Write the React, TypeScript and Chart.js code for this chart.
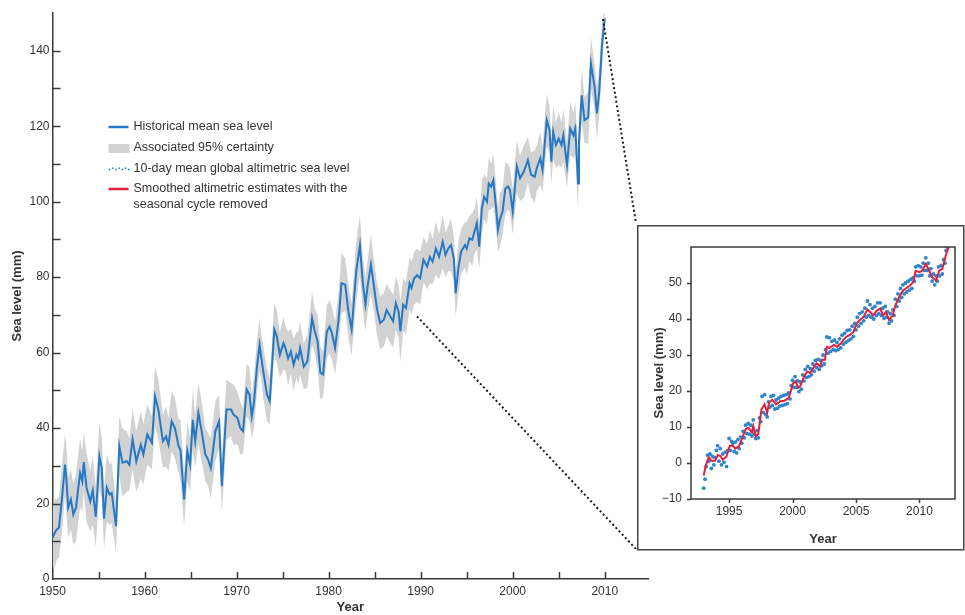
import React, { useEffect, useRef } from 'react';
import { Chart, registerables } from 'chart.js';

Chart.register(...registerables);

// ---------- Main chart data: historical mean sea level (mm) ----------
const histYears = [
  1950.0, 1950.3, 1950.45, 1950.7, 1951.0, 1951.36, 1951.5, 1951.7, 1952.0, 1952.26, 1952.55, 1953.0, 1953.24, 1953.4, 1953.7, 1954.1, 1954.37, 1954.7, 1955.1, 1955.35, 1955.6, 1955.9, 1956.2, 1956.43, 1956.9, 1957.26, 1957.6, 1958.07, 1958.35, 1958.7, 1959.1, 1959.6, 1959.87,
  1960.3, 1960.8, 1961.14, 1961.5, 1962.0, 1962.34, 1962.6, 1962.95, 1963.3, 1963.7, 1963.9, 1964.3, 1964.65, 1964.95, 1965.24, 1965.5, 1965.85, 1966.2, 1966.6, 1966.9, 1967.2, 1967.7, 1968.1, 1968.4, 1968.64, 1968.9, 1969.4, 1969.65,
  1970.1, 1970.4, 1970.7, 1971.1, 1971.4, 1971.65, 1971.9, 1972.2, 1972.5, 1972.7, 1972.9, 1973.3, 1973.6, 1974.1, 1974.37, 1974.7, 1975.1, 1975.3, 1975.6, 1975.9, 1976.2, 1976.5, 1976.7, 1976.9, 1977.3, 1977.7, 1978.2, 1978.5, 1978.8, 1979.1, 1979.4, 1979.8,
  1980.1, 1980.35, 1980.7, 1981.1, 1981.4, 1981.8, 1982.15, 1982.5, 1983.0, 1983.4, 1983.7, 1984.0, 1984.26, 1984.6, 1984.9, 1985.24, 1985.6, 1986.0, 1986.3, 1986.7, 1987.0, 1987.3, 1987.6, 1987.8, 1988.1, 1988.4, 1988.8, 1989.0, 1989.3, 1989.6, 1989.95,
  1990.3, 1990.7, 1991.0, 1991.3, 1991.65, 1992.0, 1992.4, 1992.7, 1993.0, 1993.3, 1993.6, 1993.8, 1994.1, 1994.4, 1994.8, 1995.0, 1995.3, 1995.6, 1995.85, 1996.1, 1996.36, 1996.65, 1996.9, 1997.2, 1997.4, 1997.66, 1997.9, 1998.2, 1998.4, 1998.6, 1998.9, 1999.2, 1999.5, 1999.7,
  2000.0, 2000.45, 2000.8, 2001.2, 2001.65, 2002.0, 2002.4, 2002.6, 2003.0, 2003.24, 2003.7, 2004.0, 2004.2, 2004.4, 2004.7, 2005.0, 2005.3, 2005.5, 2005.9, 2006.25, 2006.6, 2006.8, 2007.1, 2007.2, 2007.5, 2007.8, 2008.2, 2008.5, 2008.9, 2009.15, 2009.4, 2009.7, 2010.0,
];
const histLevel = [
  10.9, 12.5, 13.1, 13.6, 20.6, 30.3, 26.8, 18.9, 21.1, 17.1, 18.9, 28.1, 25.9, 31.0, 24.2, 20.6, 23.5, 16.5, 32.5, 29.4, 16.0, 24.2, 22.4, 22.8, 14.0, 35.2, 30.8, 31.2, 30.3, 37.0, 31.2, 35.6, 33.0,
  38.3, 36.1, 48.4, 44.9, 36.5, 37.8, 35.6, 41.8, 40.0, 35.2, 34.3, 21.1, 33.9, 30.3, 42.2, 36.5, 44.0, 39.2, 33.0, 31.7, 29.4, 39.2, 41.8, 24.6, 34.7, 44.9, 44.9, 43.6,
  42.7, 40.0, 39.2, 50.2, 48.9, 43.1, 47.1, 55.9, 62.1, 58.5, 55.0, 48.9, 47.1, 66.1, 64.3, 59.4, 62.5, 61.2, 58.5, 60.3, 56.8, 59.4, 58.5, 61.2, 56.3, 57.7, 69.1, 65.6, 63.0, 54.6, 54.2, 65.6,
  66.9, 65.2, 61.2, 69.1, 78.4, 78.0, 70.9, 66.1, 81.5, 88.5, 78.8, 72.7, 78.0, 83.3, 78.0, 71.8, 67.8, 68.7, 71.3, 69.6, 68.3, 73.1, 70.9, 65.6, 72.7, 71.8, 78.4, 77.1, 79.7, 80.5, 79.7,
  84.6, 82.8, 85.4, 84.1, 87.6, 85.4, 89.4, 85.9, 87.6, 88.5, 85.0, 75.7, 82.4, 86.8, 88.5, 87.6, 90.3, 89.9, 92.1, 94.3, 88.1, 98.2, 101.3, 100.0, 104.8, 104.0, 105.7, 98.2, 92.5, 95.2, 97.4, 103.5, 104.0, 103.1,
  97.4, 109.3, 106.2, 107.9, 111.0, 107.1, 106.6, 108.8, 111.5, 108.4, 121.6, 119.0, 110.6, 118.5, 115.0, 116.7, 115.0, 117.6, 109.7, 119.4, 117.6, 119.4, 104.8, 115.9, 128.2, 121.6, 122.3, 136.6, 130.4, 123.4, 129.1, 141.4, 148.5,
];
// half-width of the associated 95% certainty band (mm)
const histUncert = [
  8, 9, 8, 8, 9, 8, 9, 8, 8, 8, 9, 9, 8, 8, 9, 8, 9, 8, 9, 8, 8, 9, 8, 8, 7, 8, 9, 8, 7, 8, 8, 9, 8,
  8, 7, 8, 8, 7, 8, 7, 8, 8, 7, 8, 7, 8, 7, 8, 7, 8, 8, 7, 7, 8, 8, 7, 7, 8, 8, 7, 8,
  7, 7, 6, 7, 7, 6, 7, 7, 7, 6, 7, 7, 6, 7, 7, 6, 7, 6, 7, 6, 7, 6, 7, 7, 6, 7, 7, 6, 7, 7, 6, 7,
  7, 7, 7, 7, 8, 7, 7, 7, 8, 8, 7, 7, 7, 8, 7, 7, 7, 7, 7, 7, 7, 7, 7, 8, 7, 7, 7, 7, 7, 7, 7,
  6, 6, 7, 6, 7, 6, 7, 6, 6, 7, 6, 6, 7, 6, 6, 7, 6, 7, 6, 7, 6, 7, 6, 6, 7, 6, 7, 6, 6, 7, 6, 7, 6, 6,
  6, 7, 6, 7, 6, 6, 7, 6, 7, 6, 7, 6, 6, 7, 6, 7, 6, 7, 6, 7, 6, 7, 7, 6, 7, 6, 7, 7, 6, 7, 6, 6, 3,
];

// ---------- Inset data: 10-day altimetric sea level (mm) ----------
const altYears = [
  1993.0, 1993.1, 1993.2, 1993.3, 1993.4, 1993.5, 1993.6, 1993.7, 1993.8, 1993.9,
  1994.0, 1994.1, 1994.2, 1994.3, 1994.4, 1994.5, 1994.6, 1994.7, 1994.8, 1994.9,
  1995.0, 1995.1, 1995.2, 1995.3, 1995.4, 1995.5, 1995.6, 1995.7, 1995.8, 1995.9,
  1996.0, 1996.1, 1996.2, 1996.3, 1996.4, 1996.5, 1996.6, 1996.7, 1996.8, 1996.9,
  1997.0, 1997.1, 1997.2, 1997.3, 1997.4, 1997.5, 1997.6, 1997.7, 1997.8, 1997.9,
  1998.0, 1998.1, 1998.2, 1998.3, 1998.4, 1998.5, 1998.6, 1998.7, 1998.8, 1998.9,
  1999.0, 1999.1, 1999.2, 1999.3, 1999.4, 1999.5, 1999.6, 1999.7, 1999.8, 1999.9,
  2000.0, 2000.1, 2000.2, 2000.3, 2000.4, 2000.5, 2000.6, 2000.7, 2000.8, 2000.9,
  2001.0, 2001.1, 2001.2, 2001.3, 2001.4, 2001.5, 2001.6, 2001.7, 2001.8, 2001.9,
  2002.0, 2002.1, 2002.2, 2002.3, 2002.4, 2002.5, 2002.6, 2002.7, 2002.8, 2002.9,
  2003.0, 2003.1, 2003.2, 2003.3, 2003.4, 2003.5, 2003.6, 2003.7, 2003.8, 2003.9,
  2004.0, 2004.1, 2004.2, 2004.3, 2004.4, 2004.5, 2004.6, 2004.7, 2004.8, 2004.9,
  2005.0, 2005.1, 2005.2, 2005.3, 2005.4, 2005.5, 2005.6, 2005.7, 2005.8, 2005.9,
  2006.0, 2006.1, 2006.2, 2006.3, 2006.4, 2006.5, 2006.6, 2006.7, 2006.8, 2006.9,
  2007.0, 2007.1, 2007.2, 2007.3, 2007.4, 2007.5, 2007.6, 2007.7, 2007.8, 2007.9,
  2008.0, 2008.1, 2008.2, 2008.3, 2008.4, 2008.5, 2008.6, 2008.7, 2008.8, 2008.9,
  2009.0, 2009.1, 2009.2, 2009.3, 2009.4, 2009.5, 2009.6, 2009.7, 2009.8, 2009.9,
  2010.0, 2010.1, 2010.2, 2010.3, 2010.4, 2010.5, 2010.6, 2010.7, 2010.8, 2010.9,
  2011.0, 2011.1, 2011.2, 2011.3, 2011.4, 2011.5, 2011.6, 2011.7, 2011.8, 2011.9,
  2012.0, 2012.1, 2012.2,
];
const altLevel = [
  -7.0, -4.5, -1.0, 2.2, 0.5, 2.5, -1.5, 1.8, -0.5, 1.5,
  3.5, 4.8, 0.5, 4.0, -0.5, 2.5, 0.2, 3.0, -1.0, 3.5,
  6.8, 3.5, 6.0, 5.5, 3.2, 5.8, 2.8, 6.5, 4.0, 7.2,
  5.5, 8.8, 7.0, 10.5, 8.2, 11.0, 8.0, 10.5, 7.5, 12.0,
  8.0, 6.8, 9.0, 7.0, 12.5, 11.5, 18.5, 14.0, 19.0, 13.5,
  12.8, 17.0, 15.5, 18.5, 16.0, 18.8, 15.0, 17.5, 15.2, 18.0,
  15.8, 18.5, 16.0, 18.8, 16.2, 19.0, 16.5, 19.5, 17.8, 21.5,
  23.0, 21.0, 24.0, 21.0, 22.8, 19.8, 22.5, 20.5, 24.5, 22.8,
  26.0, 23.8, 26.8, 24.0, 26.2, 24.5, 27.5, 25.5, 28.5, 26.5,
  28.8, 26.0, 28.5, 27.0, 30.0, 27.5, 31.5, 35.0, 30.5, 34.8,
  31.0, 33.8, 31.5, 34.2, 31.2, 33.5, 31.5, 34.5, 32.0, 35.5,
  33.0, 36.0, 33.5, 36.8, 34.0, 37.0, 34.5, 38.0, 35.2, 38.8,
  37.0, 40.5, 38.0, 41.5, 38.8, 42.0, 39.5, 43.0, 40.5, 45.0,
  41.0, 44.0, 40.5, 43.0, 40.0, 43.5, 41.0, 44.5, 41.5, 44.5,
  41.0, 43.0, 40.2, 43.5, 40.5, 42.0, 38.8, 41.5, 39.5, 42.5,
  41.0, 45.5, 43.5, 47.0, 45.0, 48.5, 46.0, 49.5, 47.0, 50.0,
  47.5, 50.5, 48.0, 51.0, 48.5, 51.5, 50.5, 54.5, 52.0, 54.8,
  52.0, 54.5, 52.2, 55.5, 53.5, 57.0, 53.5, 55.5, 52.0, 54.0,
  50.5, 52.5, 49.5, 52.0, 50.5, 54.5, 52.0, 54.8, 52.5, 56.5,
  55.5, 59.0, 60.0,
];
// Smoothed altimetric estimates, seasonal cycle removed (mm)
const smoothYears = [
  1993.0, 1993.16, 1993.4, 1993.6, 1993.9, 1994.1, 1994.3, 1994.5, 1994.8, 1995.05,
  1995.3, 1995.5, 1995.8, 1996.06, 1996.3, 1996.5, 1996.8, 1996.9, 1997.1, 1997.3,
  1997.55, 1997.8, 1998.0, 1998.15, 1998.4, 1998.7, 1999.05, 1999.3, 1999.5, 1999.7,
  2000.05, 2000.25, 2000.45, 2000.6, 2000.9, 2001.15, 2001.4, 2001.7, 2001.9, 2002.15,
  2002.36, 2002.55, 2002.7, 2002.9, 2003.25, 2003.5, 2003.8, 2004.0, 2004.25, 2004.5,
  2004.8, 2005.05, 2005.3, 2005.6, 2005.9, 2006.1, 2006.35, 2006.6, 2006.9, 2007.15,
  2007.36, 2007.6, 2007.9, 2008.1, 2008.4, 2008.7, 2008.9, 2009.25, 2009.5, 2009.7,
  2010.0, 2010.2, 2010.5, 2010.77, 2011.0, 2011.3, 2011.56, 2011.8, 2012.1, 2012.3,
];
const smoothValues = [
  -3.5, -0.7, 1.6, 0.6, 0.6, 2.2, 2.0, 0.9, 1.8, 4.8,
  4.8, 4.0, 4.8, 7.1, 9.4, 9.8, 8.5, 10.3, 7.5, 8.0,
  14.9, 16.3, 14.0, 16.7, 17.6, 16.3, 17.2, 17.2, 17.6, 18.1,
  22.2, 22.7, 20.9, 21.3, 24.0, 25.4, 25.0, 26.8, 27.7, 26.8,
  28.7, 28.7, 32.3, 31.9, 32.8, 32.3, 33.2, 34.2, 35.1, 35.5,
  36.4, 38.8, 39.7, 40.6, 42.6, 42.0, 41.0, 42.2, 42.9, 41.0,
  42.0, 39.7, 41.0, 43.8, 46.1, 47.9, 48.4, 49.3, 50.2, 53.4,
  53.0, 53.4, 55.3, 53.4, 51.6, 50.7, 53.4, 53.9, 58.0, 59.9,
];

// ---------- Tick labels ----------
const mainXLabels = [1950, 1960, 1970, 1980, 1990, 2000, 2010];
const mainYLabels = [0, 20, 40, 60, 80, 100, 120, 140];
const insetXLabels = [1995, 2000, 2005, 2010];
const insetYLabels = [-10, 0, 10, 20, 30, 40, 50];

const legendLabels = [
  'Historical mean sea level',
  'Associated 95% certainty',
  '10-day mean global altimetric sea level',
  'Smoothed altimetric estimates with the',
  'seasonal cycle removed',
];

// points on the main chart (year, mm) from which the zoom connectors start
const connectorYears = [2009.8, 1989.6];
const connectorLevels = [148.4, 69.6];

// ---------- Styles ----------
const FONT = "'Liberation Sans', Arial, Helvetica, sans-serif";
const TEXT = '#333333';
const AXIS = '#3a3a3a';
const BLUE = '#2478c4';
const GRAY = '#d2d2d2';
const RED = '#e2203c';
const DOT = '#2f84cc';

const BOX = { left: 637, top: 225, right: 963, bottom: 549 };

Chart.defaults.font.family = FONT;
Chart.defaults.color = TEXT;

const rnd = (v: any) => Math.round(Number(v) * 1000) / 1000;
const fmtMinus = (v: number) => (v < 0 ? '\u2212' + Math.abs(v) : String(v));
const isMult = (v: number, m: number) => Math.abs(v / m - Math.round(v / m)) < 1e-6;

const mainDecor = {
  id: 'mainDecor',
  afterDraw(chart: any) {
    const { ctx, scales } = chart;
    const x = scales.x;
    const y = scales.y;
    ctx.save();
    // inward tick marks
    ctx.strokeStyle = AXIS;
    ctx.lineWidth = 1.5;
    ctx.beginPath();
    y.ticks.forEach((t: any) => {
      const v = rnd(t.value);
      if (isMult(v, 10) && v <= 140 && v > 0) {
        const py = Math.round(y.getPixelForValue(v)) + 0.5;
        ctx.moveTo(x.left, py);
        ctx.lineTo(x.left + 8, py);
      }
    });
    x.ticks.forEach((t: any) => {
      const v = rnd(t.value);
      if (isMult(v, 5) && v <= 2010 && v > 1950) {
        const px = Math.round(x.getPixelForValue(v)) + 0.5;
        ctx.moveTo(px, y.bottom);
        ctx.lineTo(px, y.bottom - 7);
      }
    });
    ctx.stroke();

    // legend
    const lx = x.left + 56;
    const ly = y.top + 114;
    const tx = lx + 25;
    ctx.lineWidth = 2.5;
    ctx.strokeStyle = BLUE;
    ctx.beginPath();
    ctx.moveTo(lx, ly);
    ctx.lineTo(lx + 20, ly);
    ctx.stroke();
    ctx.fillStyle = GRAY;
    ctx.fillRect(lx, ly + 17, 21, 9);
    ctx.fillStyle = DOT;
    const dotPat = [0.5, -0.8, 0.5, -0.8, 0.5, -0.8, 0.5];
    dotPat.forEach((d, i) => {
      ctx.beginPath();
      ctx.arc(lx + 1 + i * 3.2, ly + 42 + d, 0.9, 0, Math.PI * 2);
      ctx.fill();
    });
    ctx.strokeStyle = RED;
    ctx.lineWidth = 2.5;
    ctx.beginPath();
    ctx.moveTo(lx, ly + 62);
    ctx.lineTo(lx + 20, ly + 62);
    ctx.stroke();

    ctx.fillStyle = TEXT;
    ctx.font = `12.5px ${FONT}`;
    ctx.textBaseline = 'middle';
    ctx.textAlign = 'left';
    const rows = [0, 21, 42, 62, 78];
    legendLabels.forEach((s, i) => ctx.fillText(s, tx, ly + rows[i]));

    // inset box
    ctx.strokeStyle = '#444';
    ctx.lineWidth = 1.5;
    ctx.strokeRect(BOX.left + 0.75, BOX.top + 0.75, BOX.right - BOX.left, BOX.bottom - BOX.top);

    // dotted connectors
    ctx.strokeStyle = '#1a1a1a';
    ctx.lineWidth = 2;
    ctx.setLineDash([2, 2.6]);
    const ends = [
      [BOX.left - 1, BOX.top - 2],
      [BOX.left - 1, BOX.bottom],
    ];
    connectorYears.forEach((yr, i) => {
      ctx.beginPath();
      ctx.moveTo(x.getPixelForValue(yr), y.getPixelForValue(connectorLevels[i]));
      ctx.lineTo(ends[i][0], ends[i][1]);
      ctx.stroke();
    });
    ctx.restore();
  },
};

const insetDecor = {
  id: 'insetDecor',
  afterDraw(chart: any) {
    const { ctx, chartArea, scales } = chart;
    const x = scales.x;
    const y = scales.y;
    ctx.save();
    ctx.strokeStyle = AXIS;
    ctx.lineWidth = 1.5;
    ctx.strokeRect(chartArea.left, chartArea.top, chartArea.right - chartArea.left, chartArea.bottom - chartArea.top);
    ctx.beginPath();
    y.ticks.forEach((t: any) => {
      const v = rnd(t.value);
      if (insetYLabels.includes(v)) {
        const py = Math.round(y.getPixelForValue(v)) + 0.5;
        ctx.moveTo(chartArea.left, py);
        ctx.lineTo(chartArea.left - 4, py);
      }
    });
    x.ticks.forEach((t: any) => {
      const v = rnd(t.value);
      if (insetXLabels.includes(v)) {
        const px = Math.round(x.getPixelForValue(v)) + 0.5;
        ctx.moveTo(px, chartArea.bottom);
        ctx.lineTo(px, chartArea.bottom + 4);
      }
    });
    ctx.stroke();
    ctx.restore();
  },
};

export default function App() {
  const mainRef = useRef<HTMLCanvasElement>(null);
  const insetRef = useRef<HTMLCanvasElement>(null);

  useEffect(() => {
    const histPts = histYears.map((yr, i) => ({ x: yr, y: histLevel[i] }));
    const upperPts = histYears.map((yr, i) => ({ x: yr, y: histLevel[i] + histUncert[i] }));
    const lowerPts = histYears.map((yr, i) => ({ x: yr, y: histLevel[i] - histUncert[i] }));

    const main = new Chart(mainRef.current as HTMLCanvasElement, {
      type: 'line',
      data: {
        datasets: [
          { label: legendLabels[0], data: histPts, borderColor: BLUE, borderWidth: 2, pointRadius: 0, fill: false, order: 0 },
          { label: 'upper', data: upperPts, borderWidth: 0, borderColor: 'rgba(0,0,0,0)', backgroundColor: GRAY, pointRadius: 0, fill: '+1', order: 1 },
          { label: 'lower', data: lowerPts, borderWidth: 0, borderColor: 'rgba(0,0,0,0)', pointRadius: 0, fill: false, order: 2 },
        ],
      },
      options: {
        responsive: false,
        animation: false,
        events: [],
        layout: { padding: { left: 0, top: 13, right: 317, bottom: 0 } },
        plugins: { legend: { display: false }, tooltip: { enabled: false } },
        scales: {
          x: {
            type: 'linear',
            min: 1950,
            max: 2014.7,
            grid: { display: false, drawTicks: false },
            border: { display: true, color: AXIS, width: 1.5 },
            ticks: {
              stepSize: 5,
              includeBounds: false,
              autoSkip: false,
              maxRotation: 0,
              padding: 5,
              color: TEXT,
              font: { size: 12 },
              callback: (v: any) => (mainXLabels.includes(rnd(v)) ? String(rnd(v)) : ''),
            },
            title: { display: true, text: 'Year', color: TEXT, font: { size: 13, weight: 'bold' }, padding: { top: 0, bottom: 0 } },
            afterFit: (s: any) => { s.height = 36; },
          },
          y: {
            type: 'linear',
            min: 0,
            max: 150,
            grid: { display: false, drawTicks: false },
            border: { display: true, color: AXIS, width: 1.5 },
            ticks: {
              stepSize: 10,
              includeBounds: false,
              autoSkip: false,
              padding: 3,
              color: TEXT,
              font: { size: 12 },
              callback: (v: any) => (mainYLabels.includes(rnd(v)) ? String(rnd(v)) : ''),
            },
            title: { display: true, text: 'Sea level (mm)', color: TEXT, font: { size: 13, weight: 'bold' }, padding: { top: 10, bottom: 0 } },
            afterFit: (s: any) => { s.width = 52.5; },
          },
        },
      } as any,
      plugins: [mainDecor],
    });

    const altPts = altYears.map((yr, i) => ({ x: yr, y: altLevel[i] }));
    const smoothPts = smoothYears.map((yr, i) => ({ x: yr, y: smoothValues[i] }));

    const inset = new Chart(insetRef.current as HTMLCanvasElement, {
      type: 'line',
      data: {
        datasets: [
          { label: legendLabels[3], data: smoothPts, borderColor: RED, borderWidth: 2, pointRadius: 0, fill: false, order: 0 },
          { label: legendLabels[2], data: altPts, showLine: false, pointRadius: 1.9, pointBackgroundColor: DOT, pointBorderWidth: 0, borderColor: DOT, order: 1 },
        ],
      },
      options: {
        responsive: false,
        animation: false,
        events: [],
        layout: { padding: { left: 0, top: 20, right: 6, bottom: 0 } },
        plugins: { legend: { display: false }, tooltip: { enabled: false } },
        scales: {
          x: {
            type: 'linear',
            min: 1992,
            max: 2012.8,
            grid: { display: false, drawTicks: false },
            border: { display: false },
            ticks: {
              stepSize: 5,
              includeBounds: false,
              autoSkip: false,
              maxRotation: 0,
              padding: 5,
              color: TEXT,
              font: { size: 12 },
              callback: (v: any) => (insetXLabels.includes(rnd(v)) ? String(rnd(v)) : ''),
            },
            title: { display: true, text: 'Year', color: TEXT, font: { size: 13, weight: 'bold' }, padding: { top: 11, bottom: 0 } },
            afterFit: (s: any) => { s.height = 48; },
          },
          y: {
            type: 'linear',
            min: -10,
            max: 60,
            grid: { display: false, drawTicks: false },
            border: { display: false },
            ticks: {
              stepSize: 10,
              includeBounds: false,
              autoSkip: false,
              padding: 9,
              color: TEXT,
              font: { size: 12 },
              callback: (v: any) => (insetYLabels.includes(rnd(v)) ? fmtMinus(rnd(v)) : ''),
            },
            title: { display: true, text: 'Sea level (mm)', color: TEXT, font: { size: 13, weight: 'bold' }, padding: { top: 13, bottom: 0 } },
            afterFit: (s: any) => { s.width = 52; },
          },
        },
      } as any,
      plugins: [insetDecor],
    });

    return () => {
      main.destroy();
      inset.destroy();
    };
  }, []);

  return (
    <div style={{ position: 'absolute', left: 0, top: 0, width: 965, height: 615, background: '#ffffff', overflow: 'hidden' }}>
      <canvas ref={mainRef} width={965} height={615} style={{ position: 'absolute', left: 0, top: 0 }} />
      <canvas ref={insetRef} width={322} height={320} style={{ position: 'absolute', left: 639, top: 227 }} />
    </div>
  );
}
